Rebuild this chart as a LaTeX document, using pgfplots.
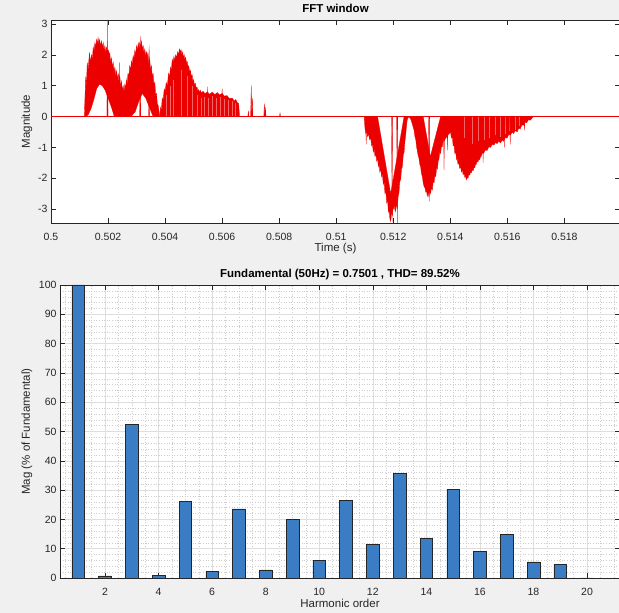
\documentclass[border=0pt]{standalone}
\usepackage{pgfplots}
\pgfplotsset{compat=1.18}
\usepackage{fontspec}
\setmainfont{Liberation Sans}
\definecolor{figbg}{RGB}{240,240,240}
\definecolor{axc}{RGB}{38,38,38}
\definecolor{sig}{RGB}{237,0,0}
\definecolor{barb}{RGB}{58,125,196}
\definecolor{gmaj}{RGB}{222,222,222}
\definecolor{gmin}{RGB}{205,205,205}
\begin{document}
\begin{tikzpicture}
\fill[figbg] (0,0) rectangle (619pt,613pt);
\path[use as bounding box] (0,0) rectangle (619pt,613pt);
\pgfplotsset{
  mystyle/.style={
    scale only axis,
    anchor=south west,
    axis background/.style={fill=white},
    axis line style={axc, line width=0.5pt},
    tick style={axc, line width=0.5pt},
    tick align=inside,
    major tick length=5pt,
    ticklabel style={font=\fontsize{10.5}{12}\selectfont, text=axc, /pgf/number format/assume math mode=true},
    xticklabel style={yshift=-7pt},
    every axis title/.style={at={(axis description cs:0.5,1)}, anchor=center, font=\fontsize{11.5}{13}\selectfont\bfseries, text=black},
    xlabel style={at={(axis description cs:0.5,0)}, anchor=center, font=\fontsize{11.5}{13}\selectfont, text=axc},
    ylabel style={anchor=center, font=\fontsize{11.5}{13}\selectfont, text=axc},
  }
}
% ---------------- top: FFT window ----------------
\begin{axis}[mystyle,
  at={(51pt,390pt)}, width=569pt, height=203pt,
  xmin=0.5, xmax=0.51995, ymin=-3.45, ymax=3.13,
  xtick={0.5,0.502,0.504,0.506,0.508,0.51,0.512,0.514,0.516,0.518},
  xticklabels={0.5,0.502,0.504,0.506,0.508,0.51,0.512,0.514,0.516,0.518},
  ytick={-3,-2,-1,0,1,2,3},
  yticklabels={-3,-2,-1,0,1,2,3},
  title={FFT window}, title style={yshift=12pt},
  xlabel={Time (s)}, xlabel style={yshift=-26pt},
  ylabel={Magnitude}, ylabel style={at={(axis description cs:-0.0422,0.5)}},
]
% humps 1 and 2
\addplot[fill=sig, draw=sig, line width=0.3pt, mark=none] coordinates {
(0.50117,0) (0.50119,0.6) (0.50122,1.3) (0.50124,0.9) (0.50127,1.75) (0.5013,1.5) (0.50135,2.08)
(0.50138,1.75) (0.50142,2.0) (0.50145,1.85) (0.50148,2.25) (0.50151,2.1) (0.50154,2.4) (0.50157,2.25)
(0.5016,2.5) (0.50163,2.35) (0.50165,2.56) (0.50168,2.35) (0.5017,2.5) (0.50174,2.3) (0.50177,2.45)
(0.5018,2.25) (0.50183,2.4) (0.50186,2.15) (0.50189,2.3) (0.50192,2.05) (0.50195,2.25) (0.50199,2.0)
(0.50202,2.15) (0.50204,1.9) (0.50206,2.08) (0.50209,1.75) (0.50212,1.9) (0.50215,1.6) (0.50218,1.76)
(0.50221,1.45) (0.50224,1.6) (0.50227,1.3) (0.5023,1.49) (0.50233,1.2) (0.50236,1.4) (0.50238,1.1)
(0.50241,1.33) (0.50244,0.95) (0.50247,1.15) (0.5025,0.85) (0.50253,1.0) (0.50256,0.8) (0.50259,1.05)
(0.50262,0.9) (0.50264,1.2) (0.50267,1.05) (0.5027,1.4) (0.50273,1.3) (0.50276,1.65) (0.50279,1.5)
(0.50282,1.8) (0.50285,1.7) (0.50288,1.98) (0.50291,1.85) (0.50294,2.15) (0.50297,2.0) (0.503,2.3)
(0.50303,2.15) (0.50306,2.38) (0.50309,2.2) (0.50311,2.4) (0.50314,2.25) (0.50317,2.45) (0.5032,2.2)
(0.50323,2.3) (0.50326,2.05) (0.50329,2.19) (0.50332,1.95) (0.50335,2.1) (0.50338,1.9) (0.5034,2.08)
(0.50343,1.7) (0.50346,1.9) (0.50349,1.5) (0.50352,1.65) (0.50355,1.3) (0.50358,1.4) (0.50361,1.0)
(0.50364,1.12) (0.50367,0.7) (0.5037,0.75) (0.50373,0.4) (0.50376,0.36) (0.50381,0)
(0.50358,0) (0.50345,0.3) (0.50332,0.6) (0.5032,0.75) (0.50308,0.5) (0.50295,0.15)
(0.5028,0) (0.50222,0) (0.50212,0.3) (0.502,0.6) (0.5019,0.85)
(0.5018,1.0) (0.5017,1.05) (0.5016,0.9) (0.5015,0.55) (0.5014,0.25) (0.5013,0.05) (0.50119,0)
};
% hump 3
\addplot[fill=sig, draw=sig, line width=0.3pt, mark=none] coordinates {
(0.50381,0) (0.50384,0.3) (0.50387,0.2) (0.5039,0.6) (0.50393,0.5) (0.50397,0.9) (0.504,0.8)
(0.50404,1.1) (0.50408,1.0) (0.50412,1.4) (0.50416,1.3) (0.50419,1.6) (0.50422,1.5) (0.50425,1.85)
(0.50428,1.75) (0.50431,1.95) (0.50434,1.8) (0.50437,2.0) (0.5044,1.9) (0.50444,2.1) (0.50447,2.0)
(0.5045,2.19) (0.50453,2.1) (0.50456,2.17) (0.50459,2.0) (0.50462,2.1) (0.50464,1.9) (0.50467,2.0)
(0.50469,1.85) (0.50472,1.92) (0.50475,1.75) (0.50478,1.78) (0.5048,1.6) (0.50483,1.65) (0.50486,1.45)
(0.50489,1.5) (0.50492,1.3) (0.50495,1.35) (0.50497,1.15) (0.505,1.2) (0.50503,1.02) (0.50506,1.08)
(0.50509,0.92) (0.50512,0.96) (0.50515,0.82) (0.50518,0.88) (0.50521,0.78) (0.50524,0.85) (0.50527,0.76)
(0.50533,0.82) (0.5054,0.74) (0.50548,0.8) (0.50556,0.72) (0.50565,0.79) (0.50575,0.71) (0.50583,0.78)
(0.50591,0.7) (0.506,0.75) (0.50608,0.66) (0.50617,0.68) (0.50626,0.58) (0.50635,0.6) (0.50643,0.5)
(0.50648,0.55) (0.50653,0.45) (0.50658,0.42) (0.50661,0) (0.50381,0)
};
% negative dips
\addplot[fill=sig, draw=sig, line width=0.3pt, mark=none] coordinates {
(0.51098,0) (0.51101,-0.4) (0.51104,-0.55) (0.51107,-0.45) (0.5111,-0.65) (0.51113,-0.55) (0.51117,-0.75)
(0.51121,-0.7) (0.51124,-0.95) (0.51127,-0.9) (0.5113,-1.15) (0.51133,-1.05) (0.51136,-1.3) (0.51139,-1.2)
(0.51142,-1.45) (0.51145,-1.35) (0.51148,-1.63) (0.5115,-1.5) (0.51153,-1.8) (0.51156,-1.7) (0.51159,-1.95)
(0.51162,-1.85) (0.51165,-2.2) (0.51168,-2.1) (0.51171,-2.5) (0.51174,-2.4) (0.51177,-2.8) (0.5118,-2.7)
(0.51183,-3.1) (0.51185,-3.0) (0.51188,-3.3) (0.51191,-3.4) (0.51194,-3.1) (0.51197,-3.2) (0.512,-2.9)
(0.51203,-3.02) (0.51206,-2.85) (0.51208,-3.1) (0.51211,-2.8) (0.51214,-3.0) (0.51217,-2.6) (0.5122,-2.48)
(0.51223,-2.1) (0.51226,-2.05) (0.51229,-1.7) (0.51232,-1.63) (0.51235,-1.25) (0.51238,-1.15)
(0.51241,-0.8) (0.51243,-0.66) (0.51246,-0.35) (0.51249,-0.1) (0.51255,0) (0.51262,-0.1)
(0.51267,-0.25) (0.5127,-0.35) (0.51273,-0.44) (0.51276,-0.65) (0.51279,-0.75) (0.51282,-1.0) (0.51284,-1.09)
(0.51287,-1.25) (0.5129,-1.35) (0.51293,-1.55) (0.51296,-1.63) (0.51299,-1.85) (0.51302,-1.95) (0.51305,-2.15)
(0.51308,-2.27) (0.51311,-2.3) (0.51314,-2.45) (0.51317,-2.4) (0.51319,-2.59) (0.51322,-2.45) (0.51325,-2.6)
(0.51328,-2.4) (0.51331,-2.5) (0.51334,-2.3) (0.51337,-2.38) (0.5134,-2.1) (0.51343,-2.15) (0.51346,-1.9)
(0.51349,-1.95) (0.51352,-1.65) (0.51355,-1.7) (0.51358,-1.4) (0.5136,-1.41) (0.51363,-1.15) (0.51366,-1.2)
(0.51369,-0.95) (0.51372,-0.98) (0.51375,-0.75) (0.51378,-0.8) (0.51384,-0.7) (0.51392,-0.6) (0.51401,-0.5)
(0.51404,-0.7) (0.51407,-0.65) (0.5141,-0.95) (0.51413,-0.9) (0.51416,-1.2) (0.51419,-1.15) (0.51422,-1.4)
(0.51424,-1.35) (0.51427,-1.55) (0.5143,-1.5) (0.51433,-1.68) (0.51436,-1.62) (0.51439,-1.8) (0.51442,-1.72)
(0.51445,-1.89) (0.51448,-1.82) (0.51451,-1.97) (0.51453,-1.9) (0.51456,-2.05) (0.51459,-1.98) (0.51462,-2.0)
(0.51465,-1.88) (0.51468,-1.9) (0.51471,-1.8) (0.51474,-1.82) (0.51477,-1.72) (0.5148,-1.76) (0.51483,-1.65)
(0.51486,-1.66) (0.51488,-1.55) (0.51491,-1.55) (0.51494,-1.45) (0.51497,-1.47) (0.515,-1.38) (0.51503,-1.4)
(0.51506,-1.3) (0.51509,-1.28) (0.51512,-1.18) (0.51517,-1.19) (0.51523,-1.08) (0.51529,-1.1) (0.51535,-0.98)
(0.51541,-1.0) (0.51547,-0.9) (0.51553,-0.92) (0.51559,-0.84) (0.51564,-0.88) (0.5157,-0.8) (0.51576,-0.85)
(0.51582,-0.76) (0.51587,-0.8) (0.51593,-0.68) (0.51599,-0.7) (0.51605,-0.58) (0.51611,-0.6) (0.51617,-0.5)
(0.51622,-0.55) (0.51628,-0.45) (0.51634,-0.5) (0.5164,-0.38) (0.51645,-0.4) (0.51651,-0.28) (0.51657,-0.28)
(0.51663,-0.18) (0.51668,-0.2) (0.51674,-0.1) (0.5168,-0.12) (0.51692,0)
(0.51366,0) (0.5133,-1.3) (0.51305,0) (0.51238,0) (0.51191,-2.5) (0.51145,0) (0.51098,0)
};
% light streaks inside the sparser parts
\addplot[ycomb, draw=white, line width=0.35pt, opacity=0.4, mark=none] coordinates {
(0.50405,0.7) (0.50418,1.0) (0.5043,1.2) (0.50455,1.5) (0.50478,1.3) (0.50495,1.0)
(0.50512,0.7) (0.50525,0.6) (0.50538,0.65) (0.50552,0.6) (0.50566,0.68) (0.5058,0.6)
(0.50594,0.65) (0.50606,0.58) (0.5062,0.55) (0.50634,0.5) (0.50647,0.45)
(0.51448,-0.7) (0.51475,-0.9) (0.51498,-0.8) (0.5152,-0.75) (0.51538,-0.7) (0.51556,-0.6)
(0.51574,-0.65) (0.51592,-0.55) (0.51608,-0.48) (0.51626,-0.42) (0.51642,-0.32)
};
% isolated spikes, as thin needles along the zero line
\addplot[fill=sig, draw=sig, line width=0.2pt, mark=none] coordinates {
(0.50196,0) (0.50198,3.13) (0.502,0)
(0.50239,0) (0.50241,1.76) (0.50243,0)
(0.50311,0) (0.50313,2.6) (0.50315,0)
(0.50342,0) (0.50344,2.3) (0.50346,0)
(0.50546,0) (0.50548,0.97) (0.5055,0)
(0.50598,0) (0.506,0.91) (0.50602,0)
(0.5069,0) (0.50692,0.18) (0.50694,0)
(0.507,0) (0.50702,1.0) (0.50704,0) (0.50706,0.6) (0.50708,0)
(0.50746,0) (0.50748,0.42) (0.5075,0) (0.50752,0.3) (0.50754,0)
(0.50801,0) (0.50803,0.12) (0.50805,0)
(0.51103,0) (0.51105,-0.9) (0.51107,0)
(0.51194,0) (0.51196,-3.42) (0.51198,0)
(0.51212,0) (0.51214,-3.45) (0.51216,0)
(0.51324,0) (0.51326,-2.75) (0.51328,0)
(0.51376,0) (0.51378,-1.73) (0.5138,0)
(0.51388,0) (0.5139,-1.1) (0.51392,0)
(0.51513,0) (0.51515,-1.5) (0.51517,0)
(0.51588,0) (0.5159,-1.0) (0.51592,0)
(0.51608,0) (0.5161,-0.9) (0.51612,0)
(0.51658,0) (0.5166,-0.45) (0.51662,0)
};
\addplot[draw=sig, line width=0.8pt, mark=none] coordinates {(0.5,0) (0.51995,0)};
\end{axis}
% ---------------- bottom: harmonics ----------------
\begin{axis}[mystyle,
  at={(60pt,35pt)}, width=560pt, height=293pt,
  xmin=0.32, xmax=21.23, ymin=0, ymax=100,
  xtick={2,4,...,20}, ytick={0,10,...,100},
  minor xtick={0.5,1,...,21}, minor ytick={0,2,...,100},
  minor tick length=0pt,
  grid=both,
  major grid style={gmaj, line width=0.5pt},
  minor grid style={gmin, line width=0.4pt, dash pattern=on 1pt off 1.6pt},
  title={Fundamental (50Hz) = 0.7501 , THD= 89.52\%}, title style={yshift=10pt},
  xlabel={Harmonic order}, xlabel style={yshift=-25pt},
  ylabel={Mag (\% of Fundamental)}, ylabel style={at={(axis description cs:-0.0589,0.5)}},
]
\addplot[ybar, bar width=0.47, bar shift=0pt, fill=barb, draw=axc, line width=0.5pt] coordinates {
(1,100) (2,0.7) (3,52.4) (4,1.0) (5,26.1) (6,2.2) (7,23.6) (8,2.8) (9,19.9) (10,6.0)
(11,26.4) (12,11.6) (13,35.6) (14,13.6) (15,30.2) (16,9.0) (17,14.8) (18,5.5) (19,4.6) (20,0.05)
};
\end{axis}
\end{tikzpicture}
\end{document}
